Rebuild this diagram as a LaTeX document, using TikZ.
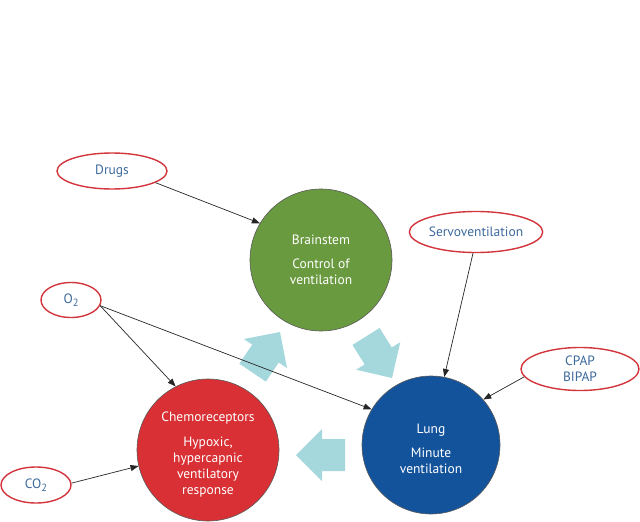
\documentclass[tikz,border=0pt]{standalone}
\usepackage{fontspec}
\setmainfont{PT Sans}
\usetikzlibrary{shapes.geometric,arrows.meta}
\definecolor{ovalred}{HTML}{D2353C}
\definecolor{textblue}{HTML}{3D6A9C}
\definecolor{brgreen}{HTML}{6A9A3F}
\definecolor{lungblue}{HTML}{13539C}
\definecolor{chemred}{HTML}{D83034}
\definecolor{arrowcyan}{HTML}{A5D8DD}
\tikzset{
  circ/.style={circle, draw=black!65, line width=0.6pt, minimum size=142pt, inner sep=0pt,
    text=white, align=center, font=\fontsize{13.5}{16}\selectfont},
  oval/.style={ellipse, draw=ovalred, line width=1.4pt, inner sep=0pt, fill=white,
    text=textblue, align=center, font=\fontsize{13.5}{16}\selectfont},
  link/.style={-{Triangle[length=8pt,width=6pt]}, line width=0.7pt, draw=black!85},
  bigarr/.style={fill=arrowcyan}
}
\newcommand{\fatarrow}[3]{%
  \begin{scope}[shift={(#1,#2)}, rotate=#3]
    \fill[bigarr] (0,0) -- (-26,26) -- (-26,16) -- (-49,16) -- (-49,-16) -- (-26,-16) -- (-26,-26) -- cycle;
  \end{scope}}
\newcommand{\subtwo}{{\fontsize{10.5}{10}\selectfont\raisebox{-3pt}{2}}}
\begin{document}
\begin{tikzpicture}[x=1pt,y=-1pt]
\useasboundingbox (0,0) rectangle (640,522);
% big flow arrows
\fatarrow{280}{332}{56}
\fatarrow{392}{378}{-58}
\fatarrow{296}{455}{180}
% circles
\node[circ, fill=brgreen] (brain) at (321,260) {Brainstem\\[8pt]Control of\\ventilation};
\node[circ, fill=lungblue, minimum size=138pt] (lung) at (431,445) {\rule{0pt}{17pt}Lung\\[8pt]Minute\\ventilation};
\node[circ, fill=chemred] (chemo) at (208,450) {\rule{0pt}{18pt}Chemoreceptors\\[9pt]Hypoxic,\\hypercapnic\\ventilatory\\response};
% ovals
\node[oval, minimum width=110pt, minimum height=36pt] (drugs) at (112,171) {Drugs};
\node[oval, minimum width=60pt, minimum height=35pt] (o2) at (71,300) {O\subtwo};
\node[oval, minimum width=70pt, minimum height=36pt] (co2) at (36,485) {CO\subtwo};
\node[oval, minimum width=118pt, minimum height=41pt] (servo) at (476,232) {Servoventilation};
\node[oval, minimum width=118pt, minimum height=43pt] (cpap) at (580,369) {CPAP\\BIPAP};
% connectors
\draw[link] (drugs.-15) -- (brain.149);
\draw[link] (servo.-98) -- (lung.79);
\draw[link] (cpap.-172) -- (lung.41);
\draw[link] (o2.-11) -- (chemo.117);
\draw[link] (o2.-11) -- (lung.149);
\draw[link] (co2.3) -- (chemo.-167);
\end{tikzpicture}
\end{document}
